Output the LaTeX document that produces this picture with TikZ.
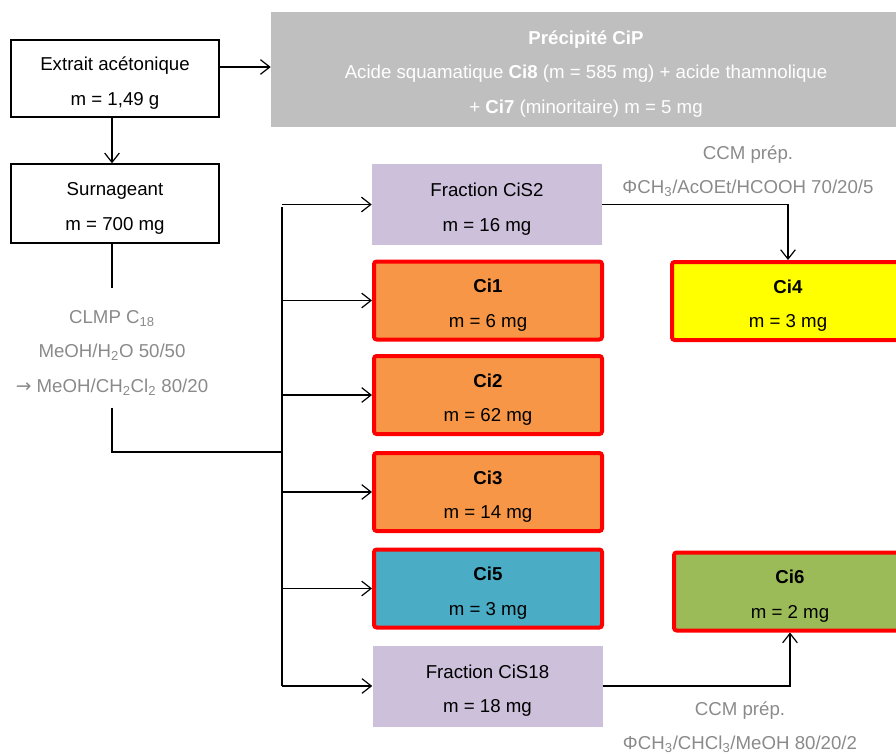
\documentclass[tikz,border=0pt]{standalone}
\usepackage{fontspec}
\setmainfont{Liberation Sans}
\newfontfamily\symbfont{DejaVu Sans}
\usepackage{tikz}
\usetikzlibrary{arrows.meta,calc}

\definecolor{grisbox}{HTML}{BFBFBF}
\definecolor{lavande}{HTML}{CCC0DA}
\definecolor{orange}{HTML}{F79646}
\definecolor{bleu}{HTML}{4BACC6}
\definecolor{jaune}{HTML}{FFFF00}
\definecolor{vert}{HTML}{9BBB59}
\definecolor{rouge}{HTML}{FF0000}
\definecolor{gristxt}{HTML}{8A8A8A}

% cale pour descendre le texte dans les boites
\newcommand{\cale}{\rule{0pt}{17pt}}

\begin{document}
\begin{tikzpicture}[x=0.75pt, y=-0.75pt,
    font=\fontsize{14}{26}\selectfont,
    boite/.style={draw, line width=1pt, align=center, minimum width=156pt},
    fraction/.style={fill=lavande, align=center, minimum width=172.5pt, minimum height=60.75pt},
    produit/.style={draw=rouge, line width=3pt, rounded corners=2pt, align=center,
        minimum width=171pt, minimum height=58.5pt},
    legende/.style={text=gristxt, align=center},
    fleche/.style={line width=0.9pt, -{Straight Barb[length=7pt,width=11pt]}},
    trait/.style={line width=0.9pt}]
    \clip (0,0) rectangle (896,753);

    % Extrait et précipité
    \node[boite, minimum height=57.75pt] (extrait) at (115,78.5) {\cale Extrait acétonique\\m = 1,49 g};
    \node[fill=grisbox, text=white, align=center, minimum width=472.5pt, minimum height=86.25pt]
        (precip) at (586,69.5)
        {\cale\textbf{Précipité CiP}\\Acide squamatique \textbf{Ci8} (m = 585 mg) + acide thamnolique\\+ \textbf{Ci7} (minoritaire) m = 5 mg};
    \node[boite, minimum height=59.25pt] (surn) at (115,203.5) {\cale Surnageant\\m = 700 mg};

    % CLMP
    \node[legende, inner ysep=9pt] (clmp) at (112,348)
        {\cale CLMP C\textsubscript{18}\\MeOH/H\textsubscript{2}O 50/50\\{\symbfont →} MeOH/CH\textsubscript{2}Cl\textsubscript{2} 80/20};

    \draw[fleche] (extrait.east |- 0,67) -- (precip.west |- 0,67);
    \draw[fleche] (extrait.south -| clmp) -- (surn.north -| clmp);

    \coordinate (jonction) at (282,452);
    \coordinate (haut) at (282,207);
    \coordinate (bas) at (282,686);
    \draw[trait] (surn.south -| clmp) -- (clmp.north);
    \draw[trait] (clmp.south) |- (jonction);
    \draw[trait] (haut) -- (bas);

    % Fractions
    \node[fraction] (cis2) at (487,204.5) {\cale Fraction CiS2\\m = 16 mg};
    \node[produit, fill=orange] (ci1) at (488,300.5) {\cale\textbf{Ci1}\\m = 6 mg};
    \node[produit, fill=orange] (ci2) at (488,395) {\cale\textbf{Ci2}\\m = 62 mg};
    \node[produit, fill=orange] (ci3) at (488,492) {\cale\textbf{Ci3}\\m = 14 mg};
    \node[produit, fill=bleu] (ci5) at (488,588.5) {\cale\textbf{Ci5}\\m = 3 mg};
    \node[fraction] (cis18) at (487.5,686) {\cale Fraction CiS18\\m = 18 mg};

    \foreach \f in {cis2,ci1,ci2,ci3,ci5,cis18} {
        \draw[fleche] (haut |- \f.west) -- (\f.west);
    }

    % CCM préparatives
    \node[produit, fill=jaune, minimum width=174pt] (ci4) at (788,301) {\cale\textbf{Ci4}\\m = 3 mg};
    \node[produit, fill=vert, minimum width=174pt] (ci6) at (790,591.5) {\cale\textbf{Ci6}\\m = 2 mg};
    \node[legende] (ccm1) at (748,171) {CCM prép.\\ΦCH\textsubscript{3}/AcOEt/HCOOH 70/20/5};
    \node[legende] (ccm2) at (740,727) {CCM prép.\\ΦCH\textsubscript{3}/CHCl\textsubscript{3}/MeOH 80/20/2};

    \draw[fleche] (cis2.east) -| (ci4.north);
    \draw[fleche] (cis18.east) -| (ci6.south);
\end{tikzpicture}
\end{document}
